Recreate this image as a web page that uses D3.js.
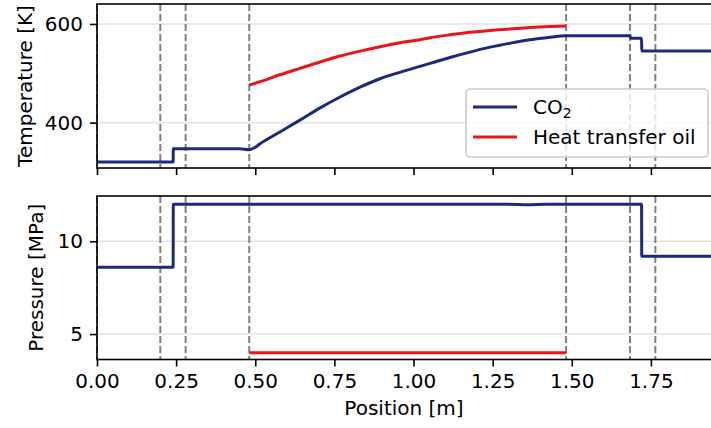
<!DOCTYPE html>
<html>
<head>
<meta charset="utf-8">
<script src="https://cdn.jsdelivr.net/npm/d3@7"></script>
<style>
  body { margin: 0; background: #fff; }
  svg { display: block; font-family: "DejaVu Sans", sans-serif; }
</style>
</head>
<body>
<div id="chart"></div>
<script>
/* Data */
// CO2 temperature along the position [m]
const co2TempPos = [0, 0.2405, 0.241, 0.45, 0.481, 0.50, 0.515, 0.578, 0.641, 0.705, 0.768, 0.831, 0.894, 0.957, 1.020, 1.052, 1.115, 1.178, 1.242, 1.305, 1.368, 1.432, 1.482, 1.684, 1.686, 1.7205, 1.721, 1.95];
const co2Temp    = [320, 320, 347, 347, 345, 350, 357, 381, 405, 430, 452, 472, 489, 502, 514, 520, 532, 543, 553, 561, 568, 573, 576, 576, 571, 571, 545, 545];

// Heat transfer oil temperature
const oilTempPos = [0.481, 0.515, 0.578, 0.641, 0.705, 0.768, 0.831, 0.894, 0.957, 1.020, 1.052, 1.115, 1.178, 1.242, 1.305, 1.368, 1.432, 1.482];
const oilTemp    = [476, 483, 497, 510, 523, 535, 545, 554, 562, 568, 572, 578, 583, 587, 590, 593, 595, 596];

// Pressures
const co2PressPos = [0, 0.2405, 0.241, 1.30, 1.36, 1.42, 1.7205, 1.721, 1.95];
const co2Press    = [8.6, 8.6, 12.0, 12.0, 11.97, 12.0, 12.0, 9.2, 9.2];
const oilPressPos = [0.481, 1.482];
const oilPress    = [4.0, 4.0];

// Component boundaries (dashed lines)
const boundaries = [0, 0.2, 0.28, 0.481, 1.482, 1.684, 1.764];

// Ticks
const xTicks = [0, 0.25, 0.5, 0.75, 1.0, 1.25, 1.5, 1.75];
const tempTicks = [400, 600];
const pressTicks = [5, 10];

const series = ["CO2", "Heat transfer oil"];
const colors = d3.scaleOrdinal().domain(series).range(["#1a2a80", "#e8161b"]);

const width = 711, height = 428;
const left = 97, right = 712;
const top1 = { y0: 4, y1: 168 };
const top2 = { y0: 196, y1: 359.5 };

const svg = d3.select("#chart")
  .append("svg")
  .attr("width", width)
  .attr("height", height);

const xScale = d3.scaleLinear()
  .domain([0, 1.943])
  .range([left, right]);

const yTemp = d3.scaleLinear()
  .domain([308, 640.5])
  .range([top1.y1, top1.y0]);

const yPress = d3.scaleLinear()
  .domain([3.63, 12.44])
  .range([top2.y1, top2.y0]);

const zip = (xs, ys) => xs.map((x, i) => ({ x: x, y: ys[i] }));

const drawPanel = (panel, yScale, yTicks, lines, showXLabels, yLabel, yLabelX) => {
  const g = svg.append("g");

  // clip to the axes area
  const clipId = "clip" + panel.y0;
  svg.append("clipPath").attr("id", clipId)
    .append("rect")
      .attr("x", left).attr("y", panel.y0)
      .attr("width", right - left).attr("height", panel.y1 - panel.y0);

  // horizontal grid
  g.append("g")
    .selectAll("line")
    .data(yTicks)
    .join("line")
      .attr("x1", left).attr("x2", right)
      .attr("y1", d => yScale(d)).attr("y2", d => yScale(d))
      .style("stroke", "#e3e3e3")
      .style("stroke-width", 1.6);

  // dashed boundaries
  g.append("g")
    .selectAll("line")
    .data(boundaries)
    .join("line")
      .attr("x1", d => xScale(d)).attr("x2", d => xScale(d))
      .attr("y1", panel.y0).attr("y2", panel.y1)
      .style("stroke", "#808080")
      .style("stroke-width", 2)
      .style("stroke-dasharray", "7,3");

  const line = d3.line()
    .curve(d3.curveMonotoneX)
    .x(d => xScale(d.x))
    .y(d => yScale(d.y));

  g.append("g")
    .attr("clip-path", `url(#${clipId})`)
    .selectAll("path")
    .data(lines)
    .join("path")
      .attr("d", d => line(d.values))
      .style("fill", "none")
      .style("stroke", d => colors(d.name))
      .style("stroke-width", 3)
      .style("stroke-linejoin", "round");

  // axes
  const yAxis = d3.axisLeft(yScale).tickValues(yTicks).tickSize(7).tickPadding(7);
  const yG = svg.append("g")
    .attr("transform", `translate(${left},0)`)
    .call(yAxis);
  yG.select(".domain").remove();

  const xAxis = d3.axisBottom(xScale).tickValues(xTicks).tickSize(7).tickPadding(7)
    .tickFormat(showXLabels ? d3.format(".2f") : "");
  const xG = svg.append("g")
    .attr("transform", `translate(0,${panel.y1})`)
    .call(xAxis);
  xG.select(".domain").remove();

  [yG, xG].forEach(a => {
    a.selectAll(".tick line").style("stroke", "#000").style("stroke-width", 1.6);
    a.selectAll(".tick text").style("font-size", "20px").style("fill", "#000")
      .style("font-family", "DejaVu Sans, sans-serif");
  });

  // spines
  svg.append("rect")
    .attr("x", left).attr("y", panel.y0)
    .attr("width", right - left).attr("height", panel.y1 - panel.y0)
    .style("fill", "none")
    .style("stroke", "#000")
    .style("stroke-width", 1.6);

  // y label
  svg.append("text")
    .attr("transform", `translate(${yLabelX},${(panel.y0 + panel.y1) / 2}) rotate(-90)`)
    .style("text-anchor", "middle")
    .style("font-size", "20px")
    .text(yLabel);
};

drawPanel(top1, yTemp, tempTicks, [
  { name: "CO2", values: zip(co2TempPos, co2Temp) },
  { name: "Heat transfer oil", values: zip(oilTempPos, oilTemp) }
], false, "Temperature [K]", 32);

drawPanel(top2, yPress, pressTicks, [
  { name: "CO2", values: zip(co2PressPos, co2Press) },
  { name: "Heat transfer oil", values: zip(oilPressPos, oilPress) }
], true, "Pressure [MPa]", 43);

// x label
svg.append("text")
  .attr("x", (left + 711) / 2)
  .attr("y", 415)
  .style("text-anchor", "middle")
  .style("font-size", "20px")
  .text("Position [m]");

/* Legend */
const legend = svg.append("g").attr("transform", "translate(466,89)");
legend.append("rect")
  .attr("width", 242).attr("height", 68)
  .attr("rx", 4)
  .style("fill", "rgba(255,255,255,0.8)")
  .style("stroke", "#cccccc")
  .style("stroke-width", 1.6);

const items = legend.selectAll("g.item")
  .data(series)
  .join("g")
    .attr("class", "item")
    .attr("transform", (d, i) => `translate(0,${18 + i * 30})`);

items.append("line")
  .attr("x1", 7).attr("x2", 51)
  .style("stroke", d => colors(d))
  .style("stroke-width", 3);

items.append("text")
  .attr("x", 67)
  .attr("y", 7)
  .style("font-size", "20px")
  .each(function(d) {
    const t = d3.select(this);
    if (d === "CO2") {
      t.append("tspan").text("CO");
      t.append("tspan").attr("dy", 4).style("font-size", "14px").text("2");
    } else {
      t.text(d);
    }
  });
</script>
</body>
</html>
